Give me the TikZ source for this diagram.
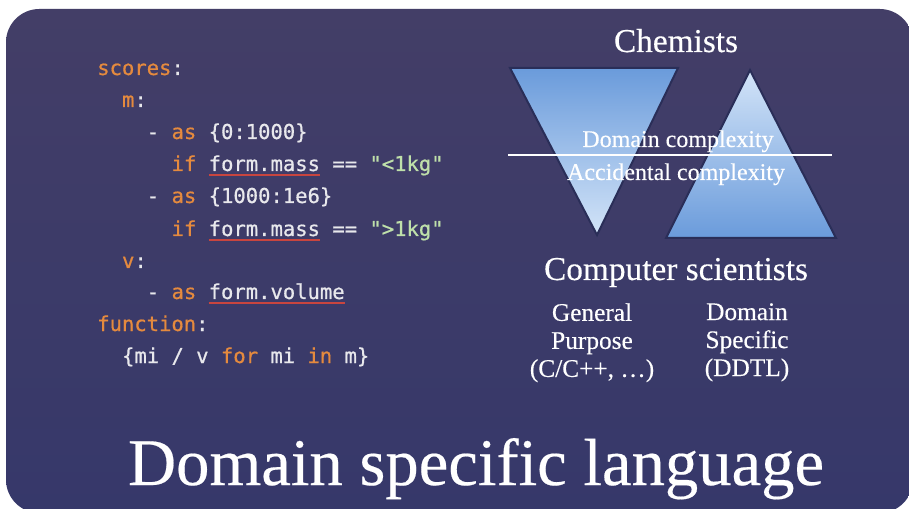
\documentclass[tikz,border=0pt]{standalone}
\usepackage{fontspec}
\setmainfont{Liberation Serif}[FakeBold=0.3]
\newfontfamily\codefont{DejaVu Sans Mono}[FakeBold=0.7]
\definecolor{bgtop}{HTML}{433E67}
\definecolor{bgbot}{HTML}{36386A}
\definecolor{kworange}{HTML}{E58A3E}
\definecolor{codewhite}{HTML}{E8E8EC}
\definecolor{strgreen}{HTML}{BFE0AA}
\definecolor{ulred}{HTML}{C8453F}
\definecolor{tridark}{HTML}{6A9BDB}
\definecolor{trilight}{HTML}{D3E4F8}
\definecolor{triedge}{HTML}{2A2E58}
\newcommand\kw[1]{\textcolor{kworange}{#1}}
\newcommand\str[1]{\textcolor{strgreen}{#1}}
\newsavebox\ulbox
\newcommand\redul[1]{\sbox\ulbox{#1}\rlap{\textcolor{ulred}{\rule[-3.5pt]{\wd\ulbox}{0.9pt}}}\usebox\ulbox}
\tikzset{
  code/.style={anchor=base west, inner sep=0pt, font=\codefont\fontsize{15.4}{18}\selectfont, text=codewhite},
  serif/.style={anchor=base, inner sep=0pt, text=white},
  tri/.style={draw=triedge, line width=1.5pt, line join=miter}
}
\begin{document}
\begin{tikzpicture}[x=0.75pt,y=-0.75pt]
\useasboundingbox (0,0) rectangle (909,509);
\fill[white] (0,0) rectangle (909,509);
\begin{scope}
\clip (0,0) rectangle (909,509);
\shade[top color=bgtop, bottom color=bgbot, rounded corners=25pt] (6,9) rectangle (913,513);
\end{scope}
% code
\node[code] (l1) at (97,75) {\kw{scores}:};
\node[code] (l2) at (121.8,107) {\kw{m}:};
\node[code] (l3) at (146.6,139) {- \kw{as} \{0:1000\}};
\node[code] (l4) at (171.4,171) {\kw{if} \redul{form.mass} == \str{"<1kg"}};
\node[code] (l5) at (146.6,203) {- \kw{as} \{1000:1e6\}};
\node[code] (l6) at (171.4,236) {\kw{if} \redul{form.mass} == \str{">1kg"}};
\node[code] (l7) at (121.8,268) {\kw{v}:};
\node[code] (l8) at (146.6,299) {- \kw{as} \redul{form.volume}};
\node[code] (l9) at (97,331) {\kw{function}:};
\node[code] (l10) at (121.8,363) {\{mi / v \kw{for} mi \kw{in} m\}};
% triangles
\shadedraw[tri, top color=tridark, bottom color=trilight] (510,68) -- (678,68) -- (597,235) -- cycle;
\shadedraw[tri, top color=trilight, bottom color=tridark] (750,70) -- (836,238) -- (666,238) -- cycle;
\coordinate (s1) at (508,155);
\coordinate (s2) at (832,155);
\draw[white, line width=1.1pt] (s1) -- (s2);
% texts
\node[serif, font=\fontsize{25}{30}\selectfont] (chem) at (676,52) {Chemists};
\node[serif, font=\fontsize{18}{22}\selectfont] (dom) at (678,147) {Domain complexity};
\node[serif, font=\fontsize{18}{22}\selectfont] (acc) at (676,180) {Accidental complexity};
\node[serif, font=\fontsize{25}{30}\selectfont] (cs) at (676,280) {Computer scientists};
\node[serif, font=\fontsize{19}{21}\selectfont, align=center, anchor=north] (gp) at (592,303) {General\\Purpose\\(C/C++, …)};
\node[serif, font=\fontsize{19}{21}\selectfont, align=center, anchor=north] (ds) at (747,303) {Domain\\Specific\\(DDTL)};
\node[serif, font=\fontsize{50}{56}\selectfont] (title) at (476,485) {Domain specific language};
\end{tikzpicture}
\end{document}
